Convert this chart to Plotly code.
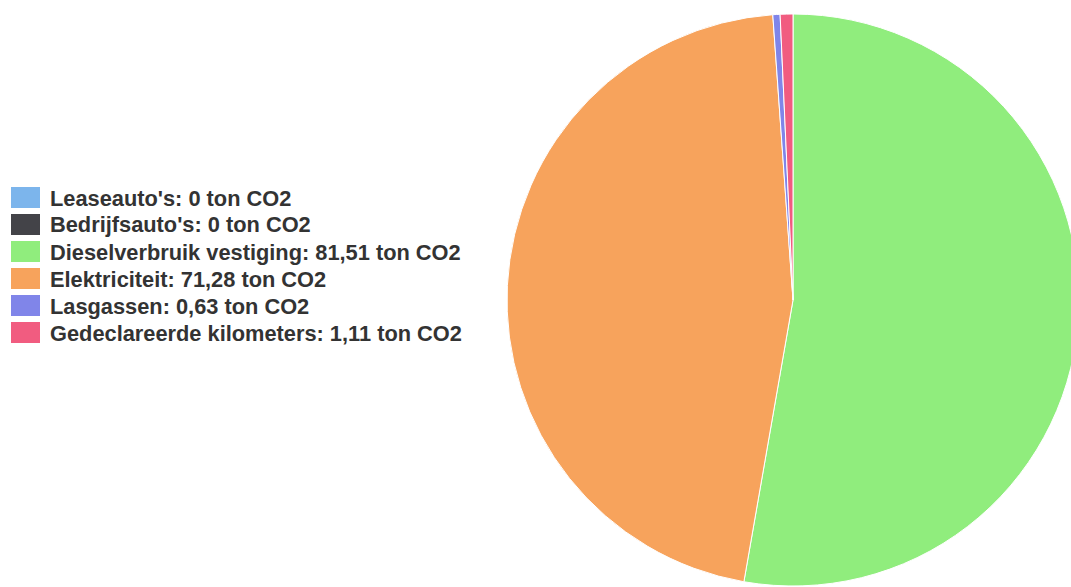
import plotly.graph_objects as go

labels = ["Leaseauto's", "Bedrijfsauto's", "Dieselverbruik vestiging", "Elektriciteit", "Lasgassen", "Gedeclareerde kilometers"]
values = [0, 0, 81.51, 71.28, 0.63, 1.11]
colors = ["#7cb5ec", "#434348", "#90ed7d", "#f7a35c", "#8085e9", "#f15c80"]
unit = "ton CO2"

W, H = 1080, 587

def fmt(v):
    s = f"{v:.2f}".rstrip("0").rstrip(".")
    return s.replace(".", ",")

# pie box in page px: left 507, right 1079, top 14, bottom 586
fig = go.Figure(go.Pie(
    labels=labels, values=values,
    marker=dict(colors=colors, line=dict(color="white", width=1)),
    sort=False, direction="clockwise", rotation=0,
    textinfo="none", showlegend=False,
    domain=dict(x=[507 / W, 1079 / W], y=[1 - 586 / H, 1 - 14 / H]),
))

# custom legend built from the data lists
row0, step = 197.5, 27
for i, (lab, v, c) in enumerate(zip(labels, values, colors)):
    cy = row0 + i * step
    fig.add_shape(type="rect", xref="paper", yref="paper",
                  x0=11 / W, x1=40 / W,
                  y0=1 - (cy - 10.5) / H, y1=1 - (cy + 10.5) / H,
                  fillcolor=c, line=dict(width=0))
    fig.add_annotation(xref="paper", yref="paper", x=48 / W, y=1 - (cy + 0.5) / H,
                       xanchor="left", yanchor="middle", showarrow=False,
                       text=f"<b>{lab}: {fmt(v)} {unit}</b>",
                       font=dict(family="Liberation Sans, Arial, sans-serif", size=21.8, color="#333333"))

fig.update_layout(width=W, height=H, margin=dict(l=0, r=0, t=0, b=0),
                  paper_bgcolor="white", plot_bgcolor="white")
fig.write_html("out.html", config={"displayModeBar": False},
               post_script="document.documentElement.style.overflow='hidden';"
                           "document.body.style.overflow='hidden';document.body.style.margin='0';")
